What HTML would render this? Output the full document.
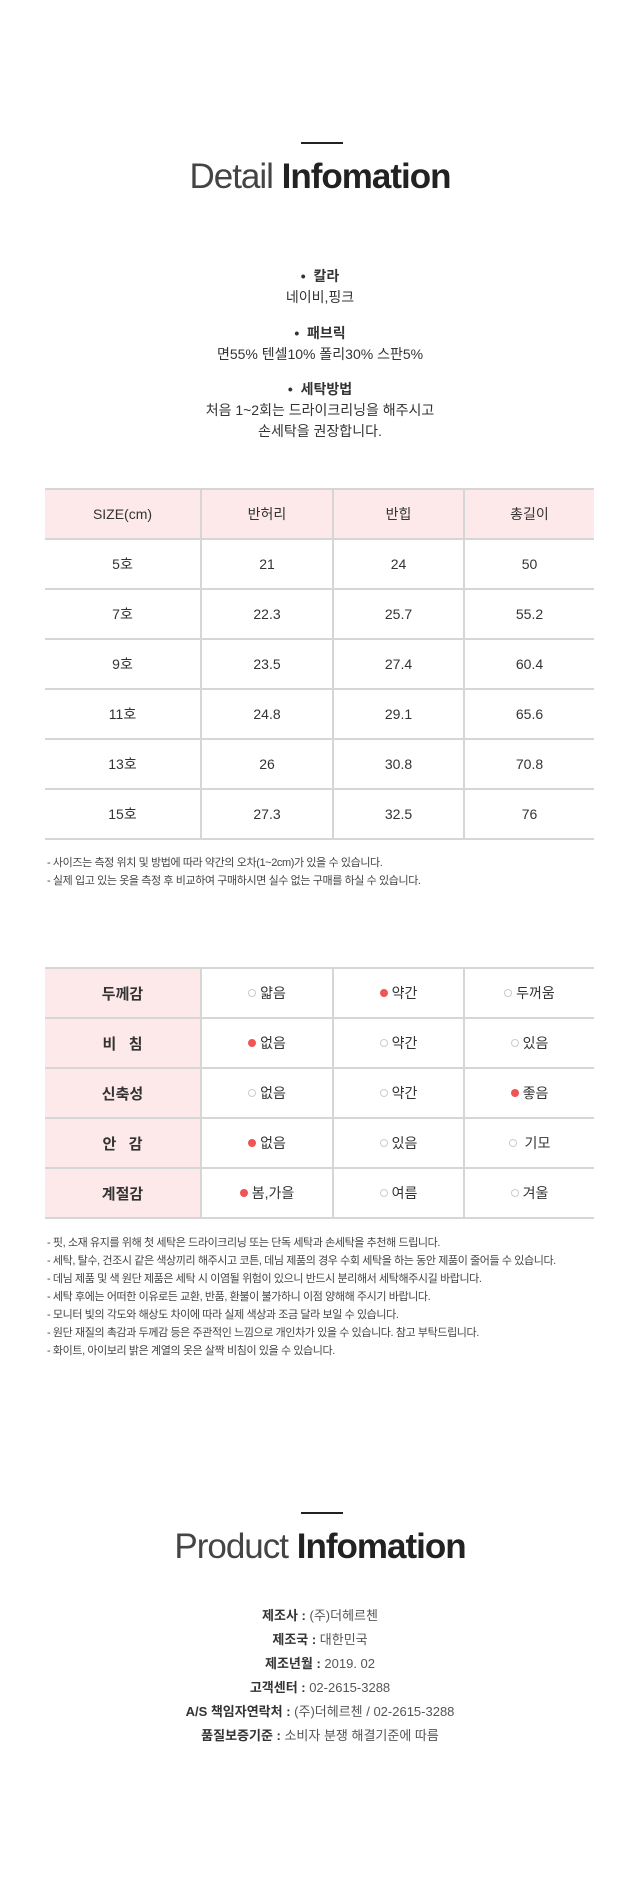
<!DOCTYPE html>
<html><head><meta charset="utf-8"><style>
*{margin:0;padding:0;box-sizing:border-box}
body{width:640px;height:1900px;background:#fff;position:relative;font-family:"Liberation Sans","Noto Sans CJK KR","NanumGothic",sans-serif;color:#333;overflow:hidden}
.a{position:absolute;left:0;width:640px;text-align:center}
.bar{position:absolute;left:301px;width:42px;height:2px;background:#222}
.title{font-size:35px;letter-spacing:-1px;color:#333}
.title b{font-weight:bold;color:#222}
.title span{font-weight:300;color:#444}
.p{font-size:14px;line-height:21px}
table{position:absolute;left:45px;width:549px;table-layout:fixed;border-collapse:collapse;font-size:14px;text-align:center}
td{border-top:2px solid #d6d6d6;border-bottom:2px solid #d6d6d6;height:50px;color:#333}
td+td{border-left:2px solid #d6d6d6}
.h td{background:#fde9e9}
.lab{background:#fde9e9;font-weight:bold;font-size:15px}
.d{display:inline-block;width:8px;height:8px;border-radius:50%;margin-right:4px;vertical-align:1px}
.on{background:#f05555}
.off{border:1px solid #ccc}
.n{position:absolute;left:47px;font-size:11px;color:#444;line-height:18px;letter-spacing:-0.4px}
.i{font-size:13px;line-height:24px;color:#555}
.i b{color:#333}
</style></head><body>
<div class="bar" style="top:142px"></div>
<div class="a title" style="top:157px"><span>Detail</span> <b>Infomation</b></div>
<div class="a p" style="top:266px"><b>• &nbsp;칼라</b><br>네이비,핑크</div>
<div class="a p" style="top:323px"><b>• &nbsp;패브릭</b><br>면55% 텐셀10% 폴리30% 스판5%</div>
<div class="a p" style="top:379px"><b>• &nbsp;세탁방법</b><br>처음 1~2회는 드라이크리닝을 해주시고<br>손세탁을 권장합니다.</div>
<table style="top:488px">
<colgroup><col style="width:156px"><col style="width:132px"><col style="width:131px"><col style="width:130px"></colgroup>
<tr class="h"><td style="height:50px">SIZE(cm)</td><td>반허리</td><td>반힙</td><td>총길이</td></tr>
<tr><td>5호</td><td>21</td><td>24</td><td>50</td></tr>
<tr><td>7호</td><td>22.3</td><td>25.7</td><td>55.2</td></tr>
<tr><td>9호</td><td>23.5</td><td>27.4</td><td>60.4</td></tr>
<tr><td>11호</td><td>24.8</td><td>29.1</td><td>65.6</td></tr>
<tr><td>13호</td><td>26</td><td>30.8</td><td>70.8</td></tr>
<tr><td>15호</td><td>27.3</td><td>32.5</td><td>76</td></tr>
</table>
<div class="n" style="top:854px">- 사이즈는 측정 위치 및 방법에 따라 약간의 오차(1~2cm)가 있을 수 있습니다.<br>- 실제 입고 있는 옷을 측정 후 비교하여 구매하시면 실수 없는 구매를 하실 수 있습니다.</div>
<table style="top:967px">
<colgroup><col style="width:156px"><col style="width:132px"><col style="width:131px"><col style="width:130px"></colgroup>
<tr><td class="lab">두께감</td><td><i class="d off"></i>얇음</td><td><i class="d on"></i>약간</td><td><i class="d off"></i>두꺼움</td></tr>
<tr><td class="lab">비 &nbsp; 침</td><td><i class="d on"></i>없음</td><td><i class="d off"></i>약간</td><td><i class="d off"></i>있음</td></tr>
<tr><td class="lab">신축성</td><td><i class="d off"></i>없음</td><td><i class="d off"></i>약간</td><td><i class="d on"></i>좋음</td></tr>
<tr><td class="lab">안 &nbsp; 감</td><td><i class="d on"></i>없음</td><td><i class="d off"></i>있음</td><td><i class="d off"></i> 기모</td></tr>
<tr><td class="lab">계절감</td><td><i class="d on"></i>봄,가을</td><td><i class="d off"></i>여름</td><td><i class="d off"></i>겨울</td></tr>
</table>
<div class="n" style="top:1234px">- 핏, 소재 유지를 위해 첫 세탁은 드라이크리닝 또는 단독 세탁과 손세탁을 추천해 드립니다.<br>- 세탁, 탈수, 건조시 같은 색상끼리 해주시고 코튼, 데님 제품의 경우 수회 세탁을 하는 동안 제품이 줄어들 수 있습니다.<br>- 데님 제품 및 색 원단 제품은 세탁 시 이염될 위험이 있으니 반드시 분리해서 세탁해주시길 바랍니다.<br>- 세탁 후에는 어떠한 이유로든 교환, 반품, 환불이 불가하니 이점 양해해 주시기 바랍니다.<br>- 모니터 빛의 각도와 해상도 차이에 따라 실제 색상과 조금 달라 보일 수 있습니다.<br>- 원단 재질의 촉감과 두께감 등은 주관적인 느낌으로 개인차가 있을 수 있습니다. 참고 부탁드립니다.<br>- 화이트, 아이보리 밝은 계열의 옷은 살짝 비침이 있을 수 있습니다.</div>
<div class="bar" style="top:1512px"></div>
<div class="a title" style="top:1527px"><span>Product</span> <b>Infomation</b></div>
<div class="a i" style="top:1604px"><b>제조사 :</b> (주)더헤르첸<br><b>제조국 :</b> 대한민국<br><b>제조년월 :</b> 2019. 02<br><b>고객센터 :</b> 02-2615-3288<br><b>A/S 책임자연락처 :</b> (주)더헤르첸 / 02-2615-3288<br><b>품질보증기준 :</b> 소비자 분쟁 해결기준에 따름</div>
</body></html>
